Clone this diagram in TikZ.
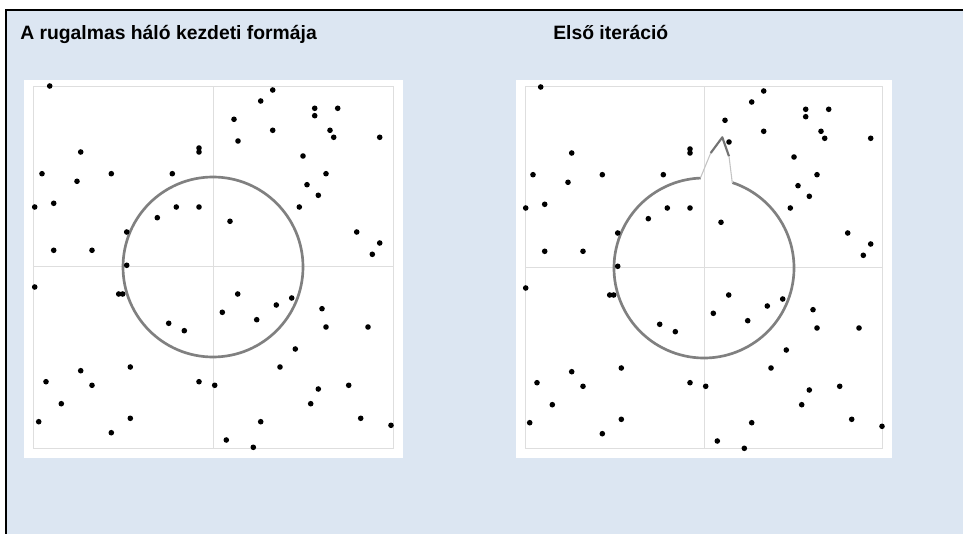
\documentclass[tikz,border=0pt]{standalone}
\usepackage{fontspec}
\setmainfont{Liberation Sans}
\usepackage{tikz}
\usetikzlibrary{calc}

\definecolor{panelbg}{RGB}{220,230,242}
\definecolor{gridgray}{RGB}{222,222,222}
\definecolor{netgray}{RGB}{128,128,128}
\definecolor{springgray}{RGB}{195,195,195}

% sample points, offsets from the panel centre (px, y downwards)
\newcommand{\netpoints}{-163.3/-181, 59.7/-177, 47.7/-166, 101.7/-158.7,
  124.7/-158.7, 101.7/-151.3, 21/-147.7, 59.7/-136.7, 117/-136.7,
  120.7/-129.7, 166.7/-129.7, 25/-126, -14/-119, -14/-115, -132.3/-115,
  90/-111, -171/-93.3, -101.7/-93.3, -40.7/-93.3, 113/-93.3, -136/-85.7,
  94/-82.3, 105.3/-71.7, -178.3/-60, -159.3/-63.7, -36.7/-60, -14/-60,
  86.3/-60, -55.7/-49.3, 17/-45.7, -86.3/-35, 143.7/-35, 166.7/-24,
  -159.3/-16.7, -121/-16.7, 159.3/-12.7, -86.3/-1.7, -178.3/20, -94.3/27,
  -90.3/27, 24.7/27, 78.7/31, 63.3/38, 109/41.7, 9.3/45.3, 43.7/52.7,
  -44.3/56.3, 113/60, 155/60, -28.7/63.7, 82.3/82, -82.7/100, 67/100,
  -132.3/103.7, -167/114.7, -14/114.7, -121/118.3, 1.7/118.3, 135.7/118.3,
  105.3/122, -151.7/136.7, 97.7/136.7, -174.3/154.7, -82.7/151.3,
  47.7/154.7, 147.7/151.3, 178/158.3, -101.7/165.7, 13.3/173, 40.3/180.3}

\begin{document}
\begin{tikzpicture}[
  x=0.75pt, y=-0.75pt,
  font=\bfseries\fontsize{14.5}{17}\selectfont,
  title/.style={anchor=base west, inner sep=0pt},
  panel/.style={fill=white},
  plotframe/.style={draw=gridgray, line width=0.75pt},
  datapoint/.style={fill=black},
  netline/.style={draw=netgray, line width=2pt},
  springline/.style={draw=springgray, line width=0.8pt},
  pullline/.style={draw=netgray!90!black, line width=1.6pt}
]
\useasboundingbox (0,0) rectangle (963,534);

% --- Background and frame ---
\fill[panelbg] (6,10) rectangle (963,534);
\draw[line width=1.5pt] (6,534) -- (6,10) -- (963,10);

% --- Titles ---
\node[title] (title1) at (20,40) {A rugalmas háló kezdeti formája};
\node[title] (title2) at (553,40) {Első iteráció};

% --- Panels ---
\fill[panel] (24,80) rectangle (403,458);
\fill[panel] (516,80) rectangle (892,458);
\coordinate (c1) at (213,267);
\coordinate (c2) at (704,268);

% --- Plot frames and axes ---
\draw[plotframe] (33,87) rectangle (393,448);
\draw[plotframe] (213,87) -- (213,448) (33,267) -- (393,267);
\draw[plotframe] (525,87) rectangle (882,448);
\draw[plotframe] (704,87) -- (704,448) (525,268) -- (882,268);

% --- Initial elastic net ---
\draw[netline] (c1) circle[radius=90];

% --- First iteration: net pulled towards a point ---
\draw[netline] ($(c2)+(288.4:90)$) arc[start angle=288.4, end angle=627.9, radius=90];
\coordinate (sA) at ($(c2)+(-3.3,-90.7)$);
\coordinate (sB) at ($(c2)+(6.7,-115)$);
\coordinate (sC) at ($(c2)+(18.3,-130.7)$);
\coordinate (sD) at ($(c2)+(25,-111.7)$);
\coordinate (sE) at ($(c2)+(28.3,-85)$);
\draw[springline] (sA) -- (sB);
\draw[pullline, line join=round] (sB) -- (sC) -- (sD);
\draw[springline] (sD) -- (sE);

% --- Data points in both panels ---
\foreach \px/\py in \netpoints {
  \fill[datapoint] ($(c1)+(\px,\py)$) circle[radius=2.8];
  \fill[datapoint] ($(c2)+(\px,\py)$) circle[radius=2.8];
}

\end{tikzpicture}
\end{document}
